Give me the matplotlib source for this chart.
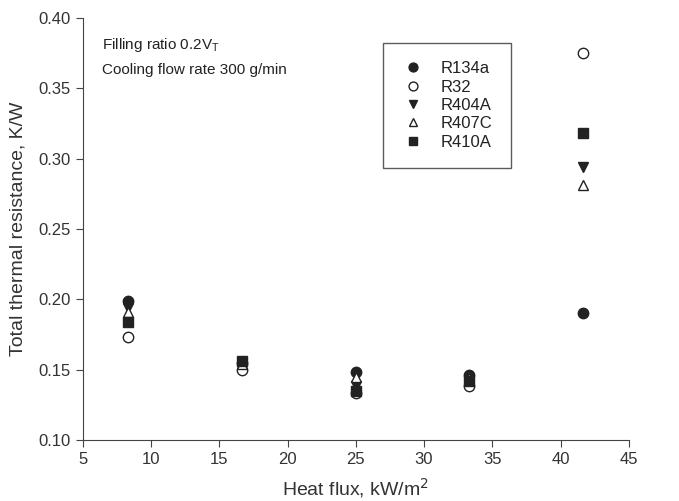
import matplotlib
matplotlib.use('Agg')
import matplotlib.pyplot as plt

plt.rcParams['font.family'] = ['Liberation Sans', 'DejaVu Sans']

# data
heat_flux = [8.33, 16.67, 25.0, 33.33, 41.67]
r134a = [0.199, 0.155, 0.148, 0.146, 0.190]
r32 = [0.173, 0.150, 0.133, 0.138, 0.375]
r404a = [0.194, 0.155, 0.138, 0.143, 0.294]
r407c = [0.191, 0.154, 0.145, 0.144, 0.281]
r410a = [0.184, 0.156, 0.135, 0.142, 0.318]

fig = plt.figure(figsize=(6.79, 5.01), dpi=100)
ax = fig.add_axes([0.122, 0.122, 0.804, 0.842])

ink = '#222222'
ms = 7.5
ax.plot(heat_flux, r134a, 'o', color=ink, ms=ms, label='R134a')
ax.plot(heat_flux, r32, 'o', mfc='white', mec=ink, ms=ms, label='R32')
ax.plot(heat_flux, r404a, 'v', color=ink, ms=ms, label='R404A')
ax.plot(heat_flux, r407c, '^', mfc='white', mec=ink, ms=ms, label='R407C')
ax.plot(heat_flux, r410a, 's', color=ink, ms=ms - 1, label='R410A')

ax.set_xlim(5, 45)
ax.set_ylim(0.10, 0.40)
ax.set_xticks(range(5, 46, 5))
ax.set_yticks([0.10, 0.15, 0.20, 0.25, 0.30, 0.35, 0.40])
ax.set_yticklabels(['%.2f' % v for v in ax.get_yticks()])
for side in ['top', 'right']:
    ax.spines[side].set_visible(False)
for side in ['left', 'bottom']:
    ax.spines[side].set_color('#444444')
ax.tick_params(direction='out', length=5, labelsize=12, colors='#444444', labelcolor='#333333')

ax.set_xlabel('Heat flux, kW/m$^2$', fontsize=14, color='#333333', labelpad=7)
ax.set_ylabel('Total thermal resistance, K/W', fontsize=14, color='#333333', labelpad=9)

ax.text(0.035, 0.935, 'Filling ratio 0.2V$_\\mathregular{T}$', transform=ax.transAxes,
        fontsize=11, color='#222222', va='center')
ax.text(0.035, 0.877, 'Cooling flow rate 300 g/min', transform=ax.transAxes,
        fontsize=11, color='#222222', va='center')

leg = ax.legend(loc='upper left', bbox_to_anchor=(0.549, 0.941), fontsize=12,
                frameon=True, fancybox=False, edgecolor='#333333',
                handletextpad=1.0, labelspacing=0.2, borderpad=1.1,
                handlelength=1.4, markerscale=0.85, borderaxespad=0)
leg.get_frame().set_linewidth(1.0)
for t in leg.get_texts():
    t.set_color('#222222')

plt.savefig('out.png', dpi=100)
